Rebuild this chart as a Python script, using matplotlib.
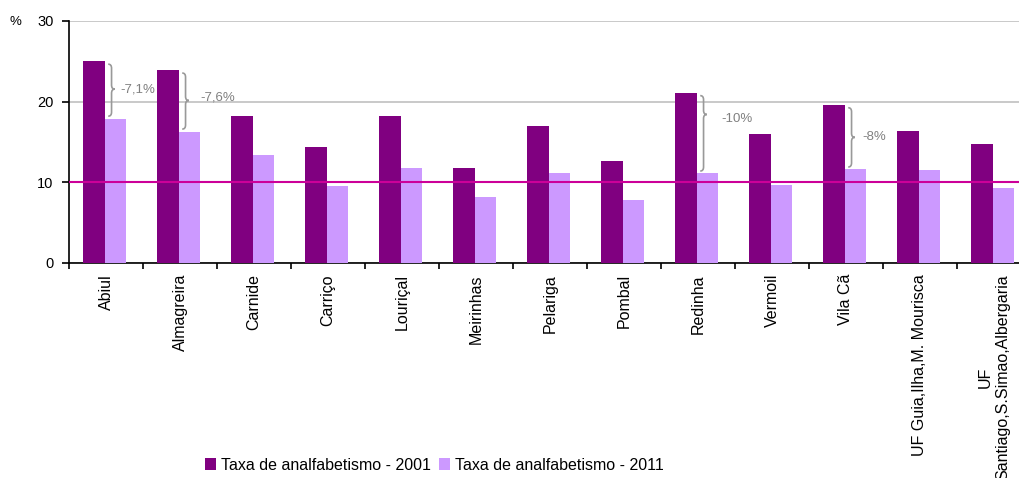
import matplotlib
matplotlib.use("Agg")
import matplotlib.pyplot as plt
from matplotlib.path import Path
from matplotlib.patches import PathPatch, Patch
import numpy as np

plt.rcParams['font.family'] = ['Liberation Sans', 'DejaVu Sans']

categories = ["Abiul", "Almagreira", "Carnide", "Carriço", "Louriçal", "Meirinhas",
              "Pelariga", "Pombal", "Redinha", "Vermoil", "Vila Cã",
              "UF Guia,Ilha,M. Mourisca", "UF\nSantiago,S.Simao,Albergaria"]
taxa_2001 = [25.0, 23.9, 18.2, 14.4, 18.2, 11.8, 17.0, 12.6, 21.1, 16.0, 19.6, 16.4, 14.7]
taxa_2011 = [17.9, 16.3, 13.4, 9.5, 11.8, 8.2, 11.2, 7.8, 11.1, 9.7, 11.6, 11.5, 9.3]
reference_level = 10
# (category index, label) for the highlighted decreases
highlights = [(0, "-7,1%"), (1, "-7,6%"), (8, "-10%"), (10, "-8%")]
label_offsets = {0: 0.20, 1: 0.27, 8: 0.32, 10: 0.22}
label_shift = {0: 0.0, 1: 0.4, 8: -0.6, 10: 0.0}
tip_fraction = {0: 0.48, 1: 0.49, 8: 0.25, 10: 0.5}

c2001 = "#800080"
c2011 = "#CC99FF"

fig = plt.figure(figsize=(10.19, 4.78), dpi=100)
ax = fig.add_axes([69/1019, 1 - 263/478, 962/1019, 242/478])

x = np.arange(len(categories))
w = 0.29
ax.bar(x - 0.162, taxa_2001, width=w, color=c2001, zorder=3)
ax.bar(x + 0.128, taxa_2011, width=w, color=c2011, zorder=3)

ax.set_xlim(-0.5, len(categories) - 0.5)
ax.set_ylim(0, 30)
ax.set_yticks([0, 10, 20, 30])
ax.yaxis.grid(True, color="#C0C0C0", linewidth=1.2, zorder=0)
ax.set_axisbelow(True)
ax.axhline(reference_level, color="#CC0099", linewidth=1.5, zorder=4)

for s in ["top", "right"]:
    ax.spines[s].set_visible(False)
for s in ["left", "bottom"]:
    ax.spines[s].set_color("black")
    ax.spines[s].set_linewidth(1.2)

ax.set_xticks(x)
ax.set_xticklabels(categories, rotation=90, fontsize=11.5, multialignment="center")
ax.tick_params(axis="x", which="major", length=0, pad=8)
ax.set_xticks(np.arange(-0.5, len(categories) + 0.5, 1), minor=True)
ax.tick_params(axis="x", which="minor", length=4, width=1.2, color="black")
ax.tick_params(axis="y", length=5, width=1.2, labelsize=10.5, pad=6)

fig.text(15/1019, 1 - 22/478, "%", fontsize=9.5, ha="center", va="center")


def brace(ax, xc, top, bottom, frac, h=0.045, d=0.5, color="#999999"):
    tip = top - frac * (top - bottom)
    verts = [
        (xc, top),
        (xc + h, top), (xc + h, top - d),
        (xc + h, tip + d),
        (xc + h, tip), (xc + 2 * h, tip),
        (xc + h, tip), (xc + h, tip - d),
        (xc + h, bottom + d),
        (xc + h, bottom), (xc, bottom),
    ]
    codes = [Path.MOVETO,
             Path.CURVE3, Path.CURVE3,
             Path.LINETO,
             Path.CURVE3, Path.CURVE3,
             Path.CURVE3, Path.CURVE3,
             Path.LINETO,
             Path.CURVE3, Path.CURVE3]
    ax.add_patch(PathPatch(Path(verts, codes), facecolor="none",
                           edgecolor=color, linewidth=1.2, zorder=5))
    return tip


for i, lbl in highlights:
    top = taxa_2001[i] - 0.35
    bot = taxa_2011[i] + 0.3
    tip = brace(ax, i + 0.03, top, bot, tip_fraction[i])
    ax.text(i + label_offsets[i], tip + label_shift[i], lbl, color="#808080",
            fontsize=9.5, ha="left", va="center", zorder=6)

handles = [Patch(facecolor=c2001, label="Taxa de analfabetismo - 2001"),
           Patch(facecolor=c2011, label="Taxa de analfabetismo - 2011")]
fig.legend(handles=handles, loc="center", bbox_to_anchor=(434/1019, 1 - 465/478),
           ncol=2, frameon=False, fontsize=11.5, handlelength=0.7, handleheight=0.7,
           handletextpad=0.3, columnspacing=0.5)

fig.savefig("out.png", dpi=100)
